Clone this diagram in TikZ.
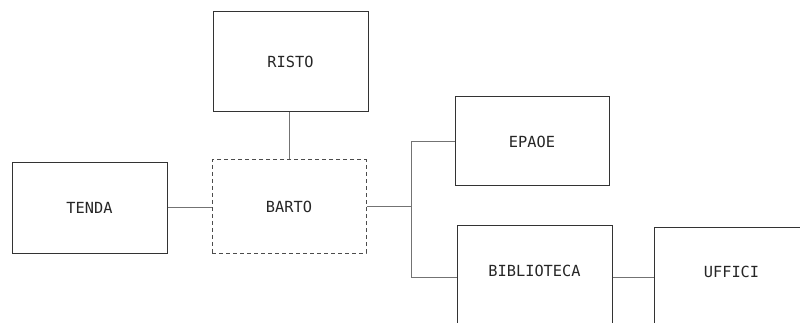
\documentclass[tikz,border=0pt]{standalone}
\usepackage{fontspec}
\setmonofont{DejaVu Sans Mono}
\begin{document}
\begin{tikzpicture}[x=1pt,y=-1pt,
  box/.style={draw=black!80, line width=1pt, fill=white, inner sep=0pt,
    font=\ttfamily\fontsize{15.3}{18}\selectfont, text=black!85},
  dashbox/.style={box, draw=black!70, dash pattern=on 4pt off 3pt},
  link/.style={draw=black!55, line width=1pt}]
\useasboundingbox (0,0) rectangle (800,323);
\clip (0,0) rectangle (800,323);

% boxes
\node[box, minimum width=155pt, minimum height=100pt] (risto) at (290.5,62) {RISTO};
\node[dashbox, minimum width=154pt, minimum height=93pt] (barto) at (289,206.5) {BARTO};
\node[box, minimum width=155pt, minimum height=90pt] (tenda) at (89.5,208) {TENDA};
\node[box, minimum width=154pt, minimum height=89pt] (epaoe) at (532,141.5) {EPAOE};
\node[box, minimum width=155pt, text height=51.5pt, text depth=52.5pt] (bib) at (534.5,277) {BIBLIOTECA};
\node[box, minimum width=155pt, text height=50.5pt, text depth=49.5pt] (uffici) at (731.5,277) {UFFICI};

% connectors
\coordinate (split) at (411.5,206.5);
\draw[link] (barto.north) -- (barto.north |- risto.south);
\draw[link] (tenda.east) -- (tenda.east -| barto.west);
\draw[link] (barto.east) -- (split);
\draw[link] (split) |- (epaoe.west);
\draw[link] (split) |- (bib.west);
\draw[link] (bib.east) -- (uffici.west);
\end{tikzpicture}
\end{document}
